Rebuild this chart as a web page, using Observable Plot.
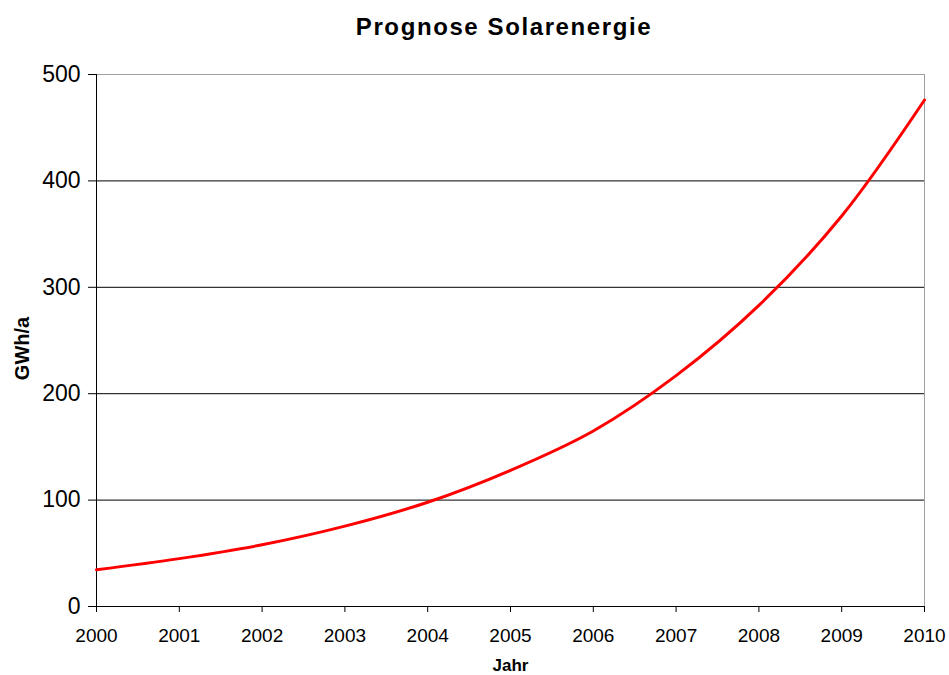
<!DOCTYPE html>
<html>
<head>
<meta charset="utf-8">
<script src="https://cdn.jsdelivr.net/npm/d3@7"></script>
<script src="https://cdn.jsdelivr.net/npm/@observablehq/plot@0.6"></script>
<style>
  html, body { margin: 0; padding: 0; background: #fff; }
  #title { position: relative; width: 949px; height: 56px; }
  #title span { position: absolute; left: 504px; top: 13px; transform: translateX(-50%); white-space: nowrap;
           font: bold 24px "Liberation Sans", Arial, sans-serif; letter-spacing: 1.6px; color: #000; }
</style>
</head>
<body>
<div id="title"><span>Prognose Solarenergie</span></div>
<div id="chart"></div>
<script>
const years = [2000, 2001, 2002, 2003, 2004, 2005, 2006, 2007, 2008, 2009, 2010];
const values = [34.5, 45, 58, 75.5, 98, 128, 165, 217, 283, 367, 476];
const yTicks = [0, 100, 200, 300, 400, 500];
const gridValues = [100, 200, 300, 400];
const yTitle = "GWh/a";
const xTitle = "Jahr";

const data = years.map((year, i) => ({year, value: values[i]}));

const chart = Plot.plot({
  width: 949,
  height: 619,
  marginTop: 18,
  marginLeft: 96,
  marginRight: 25,
  marginBottom: 69,
  style: {fontFamily: '"Liberation Sans", Arial, sans-serif', color: "#000", background: "#fff", overflow: "visible"},
  x: {domain: [2000, 2010]},
  y: {domain: [0, 500]},
  marks: [
    Plot.ruleY(gridValues, {stroke: "#000", strokeWidth: 1}),
    Plot.ruleY([500], {stroke: "#a0a0a0", strokeWidth: 1}),
    Plot.ruleX([2010], {stroke: "#a0a0a0", strokeWidth: 1}),
    Plot.axisX({ticks: years, tickFormat: d => String(d), tickSize: 6, tickPadding: 16, fontSize: 19, label: null}),
    Plot.axisY({ticks: yTicks, tickSize: 8, tickPadding: 8, fontSize: 23, label: null}),
    Plot.ruleX([2000], {stroke: "#000"}),
    Plot.ruleY([0], {stroke: "#000"}),
    Plot.line(data, {x: "year", y: "value", stroke: "#ff0000", strokeWidth: 3, curve: "catmull-rom"}),
    Plot.text([yTitle], {frameAnchor: "left", textAnchor: "middle", dx: -74, dy: 8, rotate: -90, fontSize: 20, fontWeight: "bold", text: d => d}),
    Plot.text([xTitle], {frameAnchor: "bottom", dy: 64, fontSize: 17, fontWeight: "bold", text: d => d})
  ]
});
document.getElementById("chart").appendChild(chart);
</script>
</body>
</html>
